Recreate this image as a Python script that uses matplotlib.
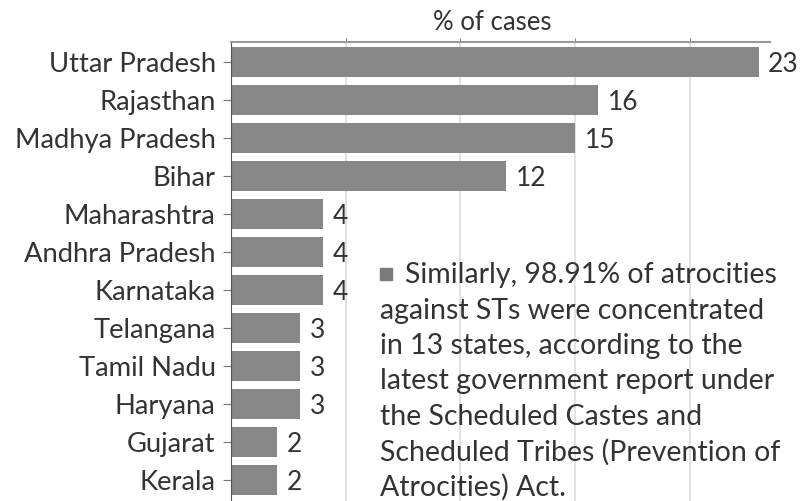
import matplotlib.pyplot as plt
from matplotlib.patches import Rectangle

# Data
states = ["Uttar Pradesh", "Rajasthan", "Madhya Pradesh", "Bihar", "Maharashtra",
          "Andhra Pradesh", "Karnataka", "Telangana", "Tamil Nadu", "Haryana",
          "Gujarat", "Kerala"]
cases = [23, 16, 15, 12, 4, 4, 4, 3, 3, 3, 2, 2]

note_lines = ["Similarly, 98.91% of atrocities",
              "against STs were concentrated",
              "in 13 states, according to the",
              "latest government report under",
              "the Scheduled Castes and",
              "Scheduled Tribes (Prevention of",
              "Atrocities) Act."]

plt.rcParams["font.family"] = ["Lato", "DejaVu Sans"]
txt = "#333333"
W, H = 811, 501

fig = plt.figure(figsize=(8.11, 5.01), dpi=100)
ax = fig.add_axes([231 / W, 0, (770 - 231) / W, (H - 42) / H])

ax.barh(range(len(states)), cases, height=0.79, color="#878787", zorder=2)

for i, v in enumerate(cases):
    ax.text(v + 0.42, i + 0.05, str(v), va="center", ha="left",
            fontsize=19, color=txt)

ax.set_yticks(range(len(states)))
ax.set_yticklabels(states, fontsize=19.7, color=txt)
ax.set_ylim(11.55, -0.53)
ax.set_xlim(0, 23.5)

ax.xaxis.tick_top()
ax.set_xticks([5, 10, 15, 20])
ax.set_xticklabels([])
ax.grid(axis="x", color="#dddddd", linewidth=1.2, zorder=0)
ax.set_axisbelow(True)

ax.tick_params(axis="y", length=6, color="#777777", pad=5)
ax.tick_params(axis="x", length=3, color="#888888")

for s in ["right", "bottom"]:
    ax.spines[s].set_visible(False)
ax.spines["left"].set_color("#555555")
ax.spines["top"].set_color("#999999")
ax.spines["top"].set_linewidth(1.5)

# axis title
fig.text(492 / W, 1 - 23 / H, "% of cases", fontsize=18.5, color=txt,
         ha="center", va="center")

# note text with square bullet
fig.patches.append(Rectangle((380 / W, 1 - 280 / H), 12 / W, 12 / H,
                             transform=fig.transFigure, color="#7a7a7a"))
for i, line in enumerate(note_lines):
    x0 = 405 if i == 0 else 380
    fig.text(x0 / W, 1 - (283 + 35.5 * i) / H, line, fontsize=20.5,
             color=txt, va="baseline", ha="left")

fig.savefig("out.png", dpi=100)
